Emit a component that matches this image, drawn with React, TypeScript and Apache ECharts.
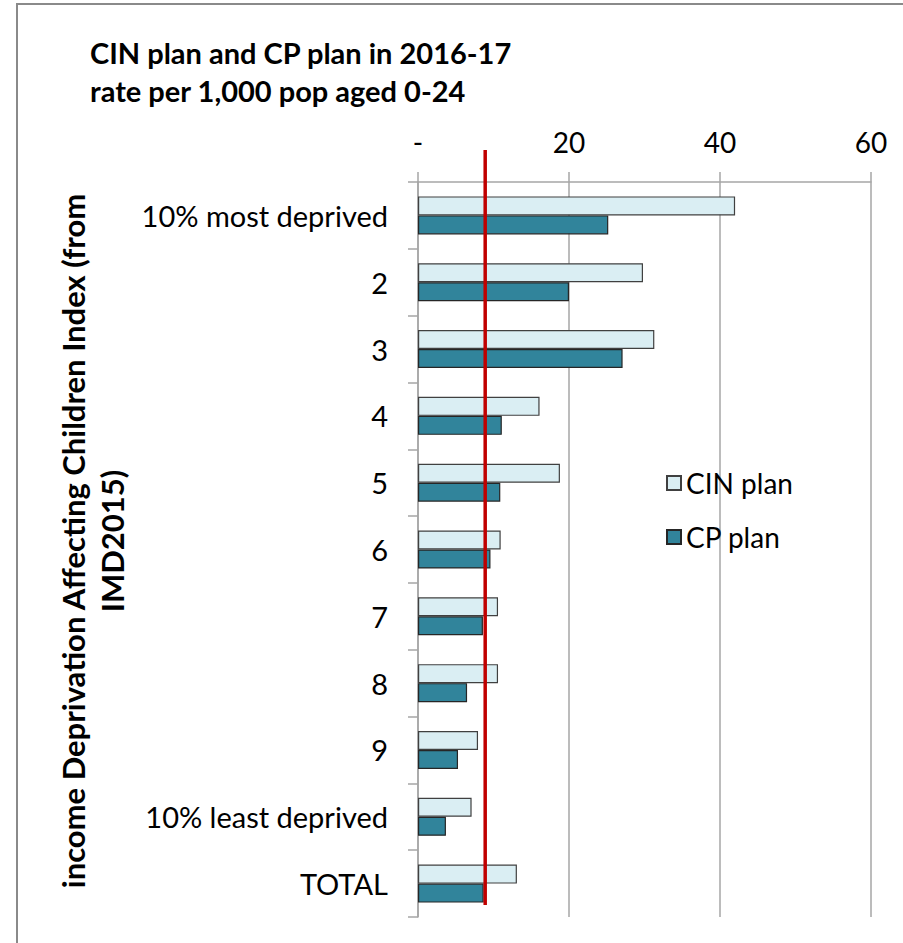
import React, { useEffect, useRef } from "react";
import * as echarts from "echarts";

const categories = [
  "10% most deprived",
  "2",
  "3",
  "4",
  "5",
  "6",
  "7",
  "8",
  "9",
  "10% least deprived",
  "TOTAL",
];
const cinPlan = [42.0, 29.8, 31.3, 16.1, 18.8, 10.95, 10.6, 10.6, 7.95, 7.1, 13.1];
const cpPlan = [25.2, 20.0, 27.1, 11.1, 10.9, 9.6, 8.6, 6.5, 5.3, 3.7, 8.7];
const referenceValue = 8.9;
const xTicks = [0, 20, 40, 60];

const FONT = "Lato, 'Open Sans', sans-serif";

export default function App() {
  const ref = useRef<HTMLDivElement>(null);
  useEffect(() => {
    if (!ref.current) return;
    const chart = echarts.init(ref.current, null, { renderer: "svg" });
    chart.setOption({
      animation: false,
      backgroundColor: "#ffffff",
      textStyle: { fontFamily: FONT },
      title: {
        text: "CIN plan and CP plan in 2016-17\nrate per 1,000 pop aged 0-24",
        left: 85,
        top: 28,
        textStyle: {
          fontFamily: FONT,
          fontSize: 29,
          fontWeight: "bold",
          color: "#000",
          lineHeight: 38,
        },
      },
      legend: {
        orient: "vertical",
        left: 661,
        top: 464,
        itemWidth: 14,
        itemHeight: 14,
        itemGap: 26,
        icon: "rect",
        textStyle: { fontFamily: FONT, fontSize: 28, color: "#000" },
        data: ["CIN plan", "CP plan"],
      },
      grid: { left: 418, right: 32, top: 182, bottom: 26, containLabel: false },
      xAxis: {
        type: "value",
        position: "top",
        min: xTicks[0],
        max: xTicks[xTicks.length - 1],
        interval: 20,
        axisLine: { show: true, lineStyle: { color: "#a6a6a6", width: 1.5 } },
        axisTick: { show: true, length: 10, lineStyle: { color: "#a6a6a6", width: 1.5 } },
        splitLine: { show: true, lineStyle: { color: "#a6a6a6", width: 1.5 } },
        axisLabel: {
          fontFamily: FONT,
          fontSize: 28,
          color: "#000",
          margin: 26,
          formatter: (v: number) => (v === 0 ? "-" : String(v)),
        },
      },
      yAxis: {
        type: "category",
        inverse: true,
        data: categories,
        axisLine: { show: true, lineStyle: { color: "#a6a6a6", width: 1.5 } },
        axisTick: { show: true, length: 10, lineStyle: { color: "#a6a6a6", width: 1.5 } },
        axisLabel: { fontFamily: FONT, fontSize: 29, color: "#000", margin: 30 },
      },
      series: [
        {
          name: "CIN plan",
          type: "bar",
          data: cinPlan,
          barWidth: 19,
          barGap: "0%",
          itemStyle: { color: "#DAEEF3", borderColor: "#404040", borderWidth: 1.2 },
        },
        {
          name: "CP plan",
          type: "bar",
          data: cpPlan,
          barWidth: 19,
          barGap: "0%",
          itemStyle: { color: "#31849B", borderColor: "#262626", borderWidth: 1.2 },
        },
      ],
    });
    const rx = chart.convertToPixel({ xAxisIndex: 0 }, referenceValue) as number;
    chart.setOption({
      graphic: [
        {
          id: "border",
          type: "rect",
          shape: { x: 17, y: 4, width: 1000, height: 1000 },
          style: { fill: "none", stroke: "#8a8a8a", lineWidth: 2 },
          silent: true,
        },
        {
          id: "yname",
          type: "text",
          x: 92,
          y: 541,
          rotation: Math.PI / 2,
          style: {
            text: "income Deprivation Affecting Children Index (from\nIMD2015)",
            font: `bold 31px ${FONT}`,
            fill: "#000",
            align: "center",
            verticalAlign: "middle",
            lineHeight: 39,
          },
        },
        {
          id: "refline",
          type: "line",
          shape: { x1: rx, y1: 150, x2: rx, y2: 905 },
          style: { stroke: "#C00000", lineWidth: 3.5 },
          z: 100,
        },
      ],
    });
    return () => chart.dispose();
  }, []);
  return (
    <div
      ref={ref}
      style={{ position: "absolute", left: 0, top: 0, width: 903, height: 943 }}
    />
  );
}
